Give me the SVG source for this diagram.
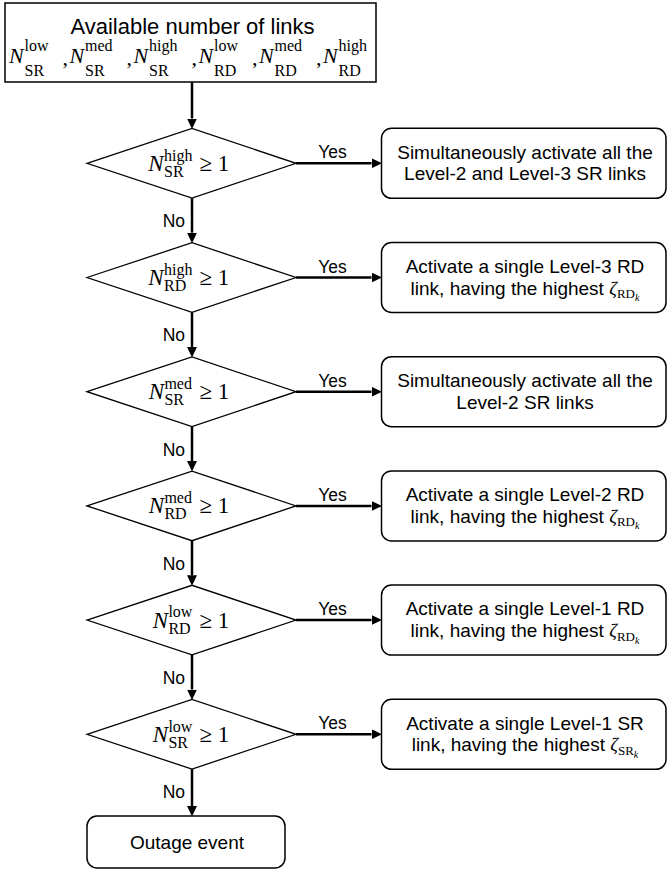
<svg xmlns="http://www.w3.org/2000/svg" width="668" height="869" viewBox="0 0 668 869">
<style>
.box{fill:#fff;stroke:#000;stroke-width:1.5}
.dia{fill:#fff;stroke:#000;stroke-width:1.3}
.conn{stroke:#000;stroke-width:2.5;fill:none}
.sans{font-family:"Liberation Sans",Arial,sans-serif;fill:#000}
.t19{font-size:19px;text-anchor:middle}
.lbl{font-size:17.5px}
.mi{font-family:"Liberation Serif","DejaVu Serif",serif;font-style:italic;fill:#000}
.mr{font-family:"Liberation Serif","DejaVu Serif",serif;fill:#000}
.big{font-size:23px}
.scr{font-size:16px}
.tb{font-size:22px}
</style>
<defs>
<marker id="ah" markerUnits="userSpaceOnUse" markerWidth="11" markerHeight="10" refX="0" refY="5" orient="auto">
<path d="M0,0 L10.5,5 L0,10 z" fill="#000"/>
</marker>
</defs>

<g id="start">
<rect class="box" x="5" y="3" width="371" height="79"/>
<text class="sans" x="192.5" y="33.5" font-size="22" text-anchor="middle">Available number of links</text>
<text class="mi tb" x="9" y="63">N</text><text class="mr scr" x="24.5" y="51">low</text><text class="mr scr" x="24.5" y="76">SR</text><text class="mr tb" x="62.5" y="65">,</text>
<text class="mi tb" x="69.5" y="63">N</text><text class="mr scr" x="85" y="51">med</text><text class="mr scr" x="85" y="76">SR</text><text class="mr tb" x="126.6" y="65">,</text>
<text class="mi tb" x="133.6" y="63">N</text><text class="mr scr" x="149.1" y="51">high</text><text class="mr scr" x="149.1" y="76">SR</text><text class="mr tb" x="191.5" y="65">,</text>
<text class="mi tb" x="198.5" y="63">N</text><text class="mr scr" x="214" y="51">low</text><text class="mr scr" x="214" y="76">RD</text><text class="mr tb" x="252" y="65">,</text>
<text class="mi tb" x="259" y="63">N</text><text class="mr scr" x="274.5" y="51">med</text><text class="mr scr" x="274.5" y="76">RD</text><text class="mr tb" x="316.1" y="65">,</text>
<text class="mi tb" x="323.1" y="63">N</text><text class="mr scr" x="338.6" y="51">high</text><text class="mr scr" x="338.6" y="76">RD</text>
</g>

<g id="d1">
<polygon class="dia" points="87,163.3 192,128.5 296,163.3 192,198.1"/>
<text class="mi big" x="148.3" y="170.8">N</text><text class="mr scr" x="164" y="160.5">high</text><text class="mr scr" x="164" y="176.8">SR</text><text class="mr big" x="199.5" y="170.8">≥ 1</text>
</g>
<g id="d2">
<polygon class="dia" points="87,277.5 192,242.7 296,277.5 192,312.3"/>
<text class="mi big" x="148.3" y="285">N</text><text class="mr scr" x="164" y="274.7">high</text><text class="mr scr" x="164" y="291">RD</text><text class="mr big" x="199.5" y="285">≥ 1</text>
</g>
<g id="d3">
<polygon class="dia" points="87,391.7 192,356.9 296,391.7 192,426.5"/>
<text class="mi big" x="148.7" y="399.2">N</text><text class="mr scr" x="164.4" y="388.9">med</text><text class="mr scr" x="164.4" y="405.2">SR</text><text class="mr big" x="199.5" y="399.2">≥ 1</text>
</g>
<g id="d4">
<polygon class="dia" points="87,505.9 192,471.1 296,505.9 192,540.7"/>
<text class="mi big" x="148.7" y="513.4">N</text><text class="mr scr" x="164.4" y="503.1">med</text><text class="mr scr" x="164.4" y="519.4">RD</text><text class="mr big" x="199.5" y="513.4">≥ 1</text>
</g>
<g id="d5">
<polygon class="dia" points="87,620.1 192,585.3 296,620.1 192,654.9"/>
<text class="mi big" x="152.7" y="627.6">N</text><text class="mr scr" x="168.4" y="617.3">low</text><text class="mr scr" x="168.4" y="633.6">RD</text><text class="mr big" x="199.5" y="627.6">≥ 1</text>
</g>
<g id="d6">
<polygon class="dia" points="87,734.3 192,699.5 296,734.3 192,769.1"/>
<text class="mi big" x="152.7" y="741.8">N</text><text class="mr scr" x="168.4" y="731.5">low</text><text class="mr scr" x="168.4" y="747.8">SR</text><text class="mr big" x="199.5" y="741.8">≥ 1</text>
</g>

<g id="a1">
<rect class="box" x="381.5" y="128.3" width="284.5" height="70" rx="10"/>
<text class="sans t19" x="525" y="158.5">Simultaneously activate all the</text>
<text class="sans t19" x="525" y="180.3">Level-2 and Level-3 SR links</text>
</g>
<g id="a2">
<rect class="box" x="381.5" y="242.5" width="284.5" height="70" rx="10"/>
<text class="sans t19" x="525" y="272.7">Activate a single Level-3 RD</text>
<text class="sans t19" x="525" y="294.5">link, having the highest <tspan class="mi">ζ</tspan><tspan class="mr" font-size="13" dy="3.5">RD</tspan><tspan class="mi" font-size="10" dy="3">k</tspan></text>
</g>
<g id="a3">
<rect class="box" x="381.5" y="356.7" width="284.5" height="70" rx="10"/>
<text class="sans t19" x="525" y="386.9">Simultaneously activate all the</text>
<text class="sans t19" x="525" y="408.7">Level-2 SR links</text>
</g>
<g id="a4">
<rect class="box" x="381.5" y="470.9" width="284.5" height="70" rx="10"/>
<text class="sans t19" x="525" y="501.1">Activate a single Level-2 RD</text>
<text class="sans t19" x="525" y="522.9">link, having the highest <tspan class="mi">ζ</tspan><tspan class="mr" font-size="13" dy="3.5">RD</tspan><tspan class="mi" font-size="10" dy="3">k</tspan></text>
</g>
<g id="a5">
<rect class="box" x="381.5" y="585.1" width="284.5" height="70" rx="10"/>
<text class="sans t19" x="525" y="615.3">Activate a single Level-1 RD</text>
<text class="sans t19" x="525" y="637.1">link, having the highest <tspan class="mi">ζ</tspan><tspan class="mr" font-size="13" dy="3.5">RD</tspan><tspan class="mi" font-size="10" dy="3">k</tspan></text>
</g>
<g id="a6">
<rect class="box" x="381.5" y="699.3" width="284.5" height="70" rx="10"/>
<text class="sans t19" x="525" y="729.5">Activate a single Level-1 SR</text>
<text class="sans t19" x="525" y="751.3">link, having the highest <tspan class="mi">ζ</tspan><tspan class="mr" font-size="13" dy="3.5">SR</tspan><tspan class="mi" font-size="10" dy="3">k</tspan></text>
</g>

<g id="outage">
<rect class="box" x="87" y="816" width="198" height="52" rx="10"/>
<text class="sans t19" x="187" y="849">Outage event</text>
</g>

<g id="connectors">
<path class="conn" marker-end="url(#ah)" d="M192,82 V118.5"/>
<path class="conn" marker-end="url(#ah)" d="M192,198.1 V232.7"/>
<path class="conn" marker-end="url(#ah)" d="M192,312.3 V346.9"/>
<path class="conn" marker-end="url(#ah)" d="M192,426.5 V461.1"/>
<path class="conn" marker-end="url(#ah)" d="M192,540.7 V575.3"/>
<path class="conn" marker-end="url(#ah)" d="M192,654.9 V689.5"/>
<path class="conn" marker-end="url(#ah)" d="M192,769.1 V806"/>
<path class="conn" marker-end="url(#ah)" d="M296,163.3 H371.5"/>
<path class="conn" marker-end="url(#ah)" d="M296,277.5 H371.5"/>
<path class="conn" marker-end="url(#ah)" d="M296,391.7 H371.5"/>
<path class="conn" marker-end="url(#ah)" d="M296,505.9 H371.5"/>
<path class="conn" marker-end="url(#ah)" d="M296,620.1 H371.5"/>
<path class="conn" marker-end="url(#ah)" d="M296,734.3 H371.5"/>
<g class="sans lbl">
<text x="332.5" y="158.3" text-anchor="middle">Yes</text>
<text x="332.5" y="272.5" text-anchor="middle">Yes</text>
<text x="332.5" y="386.7" text-anchor="middle">Yes</text>
<text x="332.5" y="500.9" text-anchor="middle">Yes</text>
<text x="332.5" y="615.1" text-anchor="middle">Yes</text>
<text x="332.5" y="729.3" text-anchor="middle">Yes</text>
<text x="185" y="227.1" text-anchor="end">No</text>
<text x="185" y="341.3" text-anchor="end">No</text>
<text x="185" y="455.5" text-anchor="end">No</text>
<text x="185" y="569.7" text-anchor="end">No</text>
<text x="185" y="683.9" text-anchor="end">No</text>
<text x="185" y="798.1" text-anchor="end">No</text>
</g>
</g>
</svg>
